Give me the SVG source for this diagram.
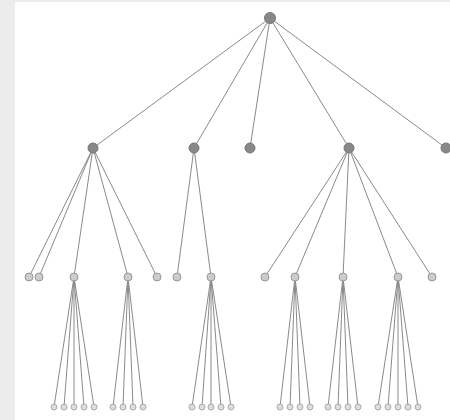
<svg xmlns="http://www.w3.org/2000/svg" width="450" height="420" viewBox="0 0 450 420">
<style>
.bg{fill:#ececec}
.panel{fill:#fff}
.e line{stroke:#8a8a8a;stroke-width:1;fill:none}
.n1{fill:#888;stroke:#777;stroke-width:1}
.n2{fill:#ccc;stroke:#999;stroke-width:1}
.n3{fill:#ddd;stroke:#aaa;stroke-width:1}
</style>
<rect class="bg" x="0" y="0" width="450" height="420"/>
<rect class="panel" x="15" y="2" width="435" height="418"/>
<g id="connectors" class="e">
<line x1="270" y1="18" x2="93" y2="148"/>
<line x1="270" y1="18" x2="194" y2="148"/>
<line x1="270" y1="18" x2="250" y2="148"/>
<line x1="270" y1="18" x2="349" y2="148"/>
<line x1="270" y1="18" x2="446" y2="148"/>
<line x1="93" y1="148" x2="29" y2="277"/>
<line x1="93" y1="148" x2="39" y2="277"/>
<line x1="93" y1="148" x2="74" y2="277"/>
<line x1="93" y1="148" x2="128" y2="277"/>
<line x1="93" y1="148" x2="157" y2="277"/>
<line x1="194" y1="148" x2="177" y2="277"/>
<line x1="194" y1="148" x2="211" y2="277"/>
<line x1="349" y1="148" x2="265" y2="277"/>
<line x1="349" y1="148" x2="295" y2="277"/>
<line x1="349" y1="148" x2="343" y2="277"/>
<line x1="349" y1="148" x2="398" y2="277"/>
<line x1="349" y1="148" x2="432" y2="277"/>
<line x1="74" y1="277" x2="54" y2="407"/>
<line x1="74" y1="277" x2="64" y2="407"/>
<line x1="74" y1="277" x2="74" y2="407"/>
<line x1="74" y1="277" x2="84" y2="407"/>
<line x1="74" y1="277" x2="94" y2="407"/>
<line x1="128" y1="277" x2="113" y2="407"/>
<line x1="128" y1="277" x2="123" y2="407"/>
<line x1="128" y1="277" x2="133" y2="407"/>
<line x1="128" y1="277" x2="143" y2="407"/>
<line x1="211" y1="277" x2="192" y2="407"/>
<line x1="211" y1="277" x2="202" y2="407"/>
<line x1="211" y1="277" x2="211" y2="407"/>
<line x1="211" y1="277" x2="221" y2="407"/>
<line x1="211" y1="277" x2="231" y2="407"/>
<line x1="295" y1="277" x2="280" y2="407"/>
<line x1="295" y1="277" x2="290" y2="407"/>
<line x1="295" y1="277" x2="300" y2="407"/>
<line x1="295" y1="277" x2="310" y2="407"/>
<line x1="343" y1="277" x2="328" y2="407"/>
<line x1="343" y1="277" x2="338" y2="407"/>
<line x1="343" y1="277" x2="348" y2="407"/>
<line x1="343" y1="277" x2="358" y2="407"/>
<line x1="398" y1="277" x2="378" y2="407"/>
<line x1="398" y1="277" x2="388" y2="407"/>
<line x1="398" y1="277" x2="398" y2="407"/>
<line x1="398" y1="277" x2="408" y2="407"/>
<line x1="398" y1="277" x2="418" y2="407"/>
</g>
<g id="root"><circle class="n1" cx="270" cy="18" r="5.5"/></g>
<g id="a"><circle class="n1" cx="93" cy="148" r="5"/></g>
<g id="b"><circle class="n1" cx="194" cy="148" r="5"/></g>
<g id="c"><circle class="n1" cx="250" cy="148" r="5"/></g>
<g id="d"><circle class="n1" cx="349" cy="148" r="5"/></g>
<g id="e"><circle class="n1" cx="446" cy="148" r="5"/></g>
<g id="a1"><circle class="n2" cx="29" cy="277" r="4"/></g>
<g id="a2"><circle class="n2" cx="39" cy="277" r="4"/></g>
<g id="a3"><circle class="n2" cx="74" cy="277" r="4"/></g>
<g id="a4"><circle class="n2" cx="128" cy="277" r="4"/></g>
<g id="a5"><circle class="n2" cx="157" cy="277" r="4"/></g>
<g id="b1"><circle class="n2" cx="177" cy="277" r="4"/></g>
<g id="b2"><circle class="n2" cx="211" cy="277" r="4"/></g>
<g id="d1"><circle class="n2" cx="265" cy="277" r="4"/></g>
<g id="d2"><circle class="n2" cx="295" cy="277" r="4"/></g>
<g id="d3"><circle class="n2" cx="343" cy="277" r="4"/></g>
<g id="d4"><circle class="n2" cx="398" cy="277" r="4"/></g>
<g id="d5"><circle class="n2" cx="432" cy="277" r="4"/></g>
<g id="a3-1"><circle class="n3" cx="54" cy="407" r="3"/></g>
<g id="a3-2"><circle class="n3" cx="64" cy="407" r="3"/></g>
<g id="a3-3"><circle class="n3" cx="74" cy="407" r="3"/></g>
<g id="a3-4"><circle class="n3" cx="84" cy="407" r="3"/></g>
<g id="a3-5"><circle class="n3" cx="94" cy="407" r="3"/></g>
<g id="a4-1"><circle class="n3" cx="113" cy="407" r="3"/></g>
<g id="a4-2"><circle class="n3" cx="123" cy="407" r="3"/></g>
<g id="a4-3"><circle class="n3" cx="133" cy="407" r="3"/></g>
<g id="a4-4"><circle class="n3" cx="143" cy="407" r="3"/></g>
<g id="b2-1"><circle class="n3" cx="192" cy="407" r="3"/></g>
<g id="b2-2"><circle class="n3" cx="202" cy="407" r="3"/></g>
<g id="b2-3"><circle class="n3" cx="211" cy="407" r="3"/></g>
<g id="b2-4"><circle class="n3" cx="221" cy="407" r="3"/></g>
<g id="b2-5"><circle class="n3" cx="231" cy="407" r="3"/></g>
<g id="d2-1"><circle class="n3" cx="280" cy="407" r="3"/></g>
<g id="d2-2"><circle class="n3" cx="290" cy="407" r="3"/></g>
<g id="d2-3"><circle class="n3" cx="300" cy="407" r="3"/></g>
<g id="d2-4"><circle class="n3" cx="310" cy="407" r="3"/></g>
<g id="d3-1"><circle class="n3" cx="328" cy="407" r="3"/></g>
<g id="d3-2"><circle class="n3" cx="338" cy="407" r="3"/></g>
<g id="d3-3"><circle class="n3" cx="348" cy="407" r="3"/></g>
<g id="d3-4"><circle class="n3" cx="358" cy="407" r="3"/></g>
<g id="d4-1"><circle class="n3" cx="378" cy="407" r="3"/></g>
<g id="d4-2"><circle class="n3" cx="388" cy="407" r="3"/></g>
<g id="d4-3"><circle class="n3" cx="398" cy="407" r="3"/></g>
<g id="d4-4"><circle class="n3" cx="408" cy="407" r="3"/></g>
<g id="d4-5"><circle class="n3" cx="418" cy="407" r="3"/></g>
</svg>
